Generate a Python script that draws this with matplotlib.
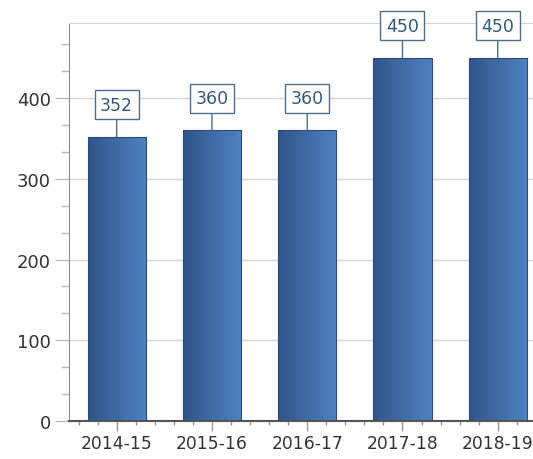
import numpy as np
import matplotlib.pyplot as plt
from matplotlib.ticker import MultipleLocator
from matplotlib.colors import LinearSegmentedColormap

# data
years = ['2014-15', '2015-16', '2016-17', '2017-18', '2018-19']
values = [352, 360, 360, 450, 450]

fig = plt.figure(figsize=(5.33, 4.6), dpi=100)
ax = fig.add_axes([0.1295, 0.0826, 0.8705, 0.8652])

x = np.arange(len(years))
bars = ax.bar(x, values, width=0.61, color='none', edgecolor='#2b4b7c',
              linewidth=0.8, zorder=3)

# left-to-right gradient inside each bar
cmap = LinearSegmentedColormap.from_list('bar', ['#2f5589', '#4f82c2'])
grad = np.linspace(0, 1, 256).reshape(1, -1)
for b in bars:
    x0, y0 = b.get_x(), b.get_y()
    w, h = b.get_width(), b.get_height()
    im = ax.imshow(grad, cmap=cmap, aspect='auto', zorder=2.5,
                   extent=[x0, x0 + w, y0, y0 + h], interpolation='bicubic')
    im.set_clip_path(b)

# value boxes with leader lines
for i, v in enumerate(values):
    ax.annotate(str(v), xy=(i, v), xytext=(0, 32), textcoords='offset pixels',
                ha='center', va='center', fontsize=12.5, color='#35587a',
                bbox=dict(boxstyle='square,pad=0.32', fc='white', ec='#4d6d8c', lw=1),
                arrowprops=dict(arrowstyle='-', color='#4d6d8c', lw=1,
                                shrinkA=0, shrinkB=0),
                zorder=5)

ax.set_xlim(-0.5, 4.37)
ax.set_ylim(0, 493)
ax.set_xticks(x)
ax.set_xticklabels(years)
ax.xaxis.set_minor_locator(MultipleLocator(0.2))
ax.yaxis.set_major_locator(MultipleLocator(100))
ax.yaxis.set_minor_locator(MultipleLocator(100 / 3))

ax.grid(axis='y', color='#d4d4d4', linewidth=1, zorder=0)
ax.set_axisbelow(True)

ax.spines['right'].set_visible(False)
ax.spines['top'].set_color('#d4d4d4')
ax.spines['left'].set_color('#8c8c8c')
ax.spines['bottom'].set_color('#555555')
ax.spines['bottom'].set_linewidth(1.5)

ax.tick_params(axis='y', which='major', length=10, color='#bbbbbb', width=1,
               labelsize=13, labelcolor='#333333', pad=3)
ax.tick_params(axis='y', which='minor', length=6, color='#bbbbbb', width=1)
ax.tick_params(axis='x', which='major', length=7, color='#999999', width=1,
               labelsize=12.3, labelcolor='#333333', pad=2)
ax.tick_params(axis='x', which='minor', length=3, color='#999999', width=1)

fig.savefig('out.png', dpi=100)
